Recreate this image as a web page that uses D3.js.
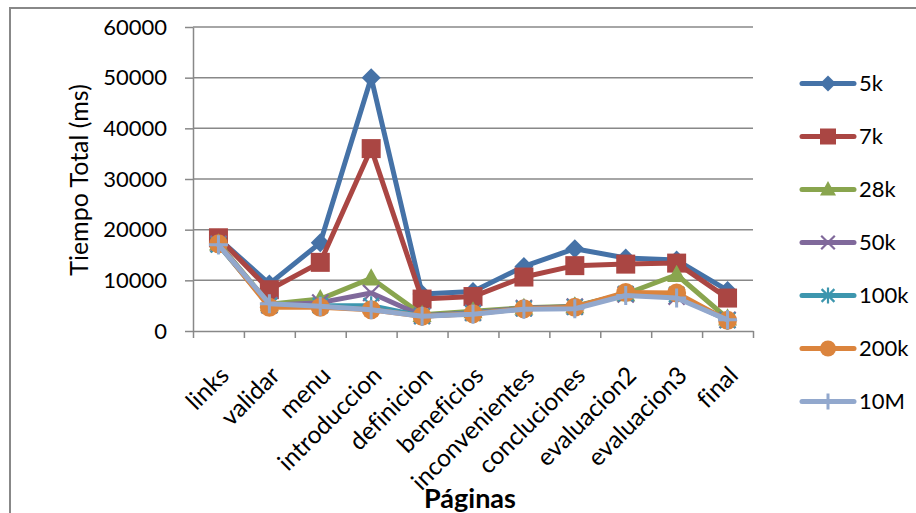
<!DOCTYPE html>
<html>
<head>
<meta charset="utf-8">
<script src="https://cdn.jsdelivr.net/npm/d3@7"></script>
<style>
  html, body { margin: 0; padding: 0; background: #fff; overflow: hidden; }
  text { font-family: Lato, "Open Sans", sans-serif; fill: #000; font-variant-ligatures: none; }
</style>
</head>
<body>
<svg id="chart" width="916" height="513"></svg>
<script>
// Page names along the horizontal axis
const categories = ["links", "validar", "menu", "introduccion", "definicion", "beneficios",
  "inconvenientes", "concluciones", "evaluacion2", "evaluacion3", "final"];

// Total time (ms) per page, one array per connection speed
const seriesNames = ["5k", "7k", "28k", "50k", "100k", "200k", "10M"];
const values5k   = [18300, 9300, 17400, 50000, 7300, 7800, 12750, 16250, 14400, 14000, 8000];
const values7k   = [18400, 8150, 13550, 36000, 6300, 6800, 10650, 12900, 13200, 13400, 6500];
const values28k  = [17300, 5300, 6300, 10400, 3200, 3900, 4600, 4900, 7300, 11100, 2500];
const values50k  = [17200, 5100, 5600, 7500, 3000, 3600, 4500, 4800, 7200, 6800, 2200];
const values100k = [17000, 5000, 5000, 5000, 2900, 3500, 4400, 4700, 7400, 7200, 2100];
const values200k = [17200, 4700, 4700, 4200, 2900, 3400, 4400, 4700, 7600, 7500, 2100];
const values10M  = [17000, 5400, 4900, 4200, 2900, 3300, 4300, 4400, 7000, 6500, 2200];

const yTicks = [0, 10000, 20000, 30000, 40000, 50000, 60000];

const seriesColors = ["#4572A7", "#AA4643", "#89A54E", "#80699B", "#3D96AE", "#DB843D", "#92A8CD"];
const markerKinds  = ["diamond", "square", "triangle", "cross", "star", "circle", "plus"];

const allValues = [values5k, values7k, values28k, values50k, values100k, values200k, values10M];
const series = seriesNames.map((name, i) => ({
  name, values: allValues[i], color: seriesColors[i], marker: markerKinds[i]
}));

const svg = d3.select("#chart");
const axisColor = "#888888";

// Outer chart frame
svg.append("rect")
  .attr("x", 10).attr("y", 8).attr("width", 920).attr("height", 520)
  .attr("fill", "none").attr("stroke", axisColor).attr("stroke-width", 2);

const plot = { left: 193, right: 753, top: 27, bottom: 331 };

const y = d3.scaleLinear().domain([0, 60000]).range([plot.bottom, plot.top]);
const x = d3.scaleBand().domain(categories).range([plot.left, plot.right]).padding(0);
const xEdge = d3.scaleLinear().domain([0, categories.length]).range([plot.left, plot.right]);
const cx = d => x(d) + x.bandwidth() / 2;

// Horizontal gridlines
svg.append("g")
  .selectAll("line")
  .data(yTicks.filter(t => t > 0))
  .join("line")
  .attr("x1", plot.left).attr("x2", plot.right)
  .attr("y1", d => y(d)).attr("y2", d => y(d))
  .attr("stroke", axisColor).attr("stroke-width", 1.5);

// Vertical axis
const yAxis = svg.append("g")
  .attr("transform", `translate(${plot.left},0)`)
  .call(d3.axisLeft(y).tickValues(yTicks).tickSize(8).tickSizeOuter(0).tickPadding(18)
    .tickFormat(d3.format("d")));
yAxis.select(".domain").attr("stroke", axisColor).attr("stroke-width", 1.5);
yAxis.selectAll(".tick line").attr("stroke", axisColor).attr("stroke-width", 1.5);
yAxis.selectAll(".tick text")
  .attr("font-size", 22).attr("font-family", "Lato, sans-serif").attr("fill", "#000");

// Horizontal axis with ticks between categories
const xAxis = svg.append("g")
  .attr("transform", `translate(0,${plot.bottom})`)
  .call(d3.axisBottom(xEdge).tickValues(d3.range(categories.length + 1)).tickSize(7)
    .tickSizeOuter(0).tickFormat(""));
xAxis.select(".domain").attr("stroke", axisColor).attr("stroke-width", 1.5);
xAxis.selectAll(".tick line").attr("stroke", axisColor).attr("stroke-width", 1.5);

// Rotated category labels
svg.append("g")
  .selectAll("text")
  .data(categories)
  .join("text")
  .attr("transform", d => `translate(${cx(d) + 12},${plot.bottom + 46}) rotate(-45)`)
  .attr("text-anchor", "end")
  .attr("font-size", 24.5)
  .text(d => d);

// Axis titles
svg.append("text")
  .attr("transform", `translate(88,${(plot.top + plot.bottom) / 2 + 1}) rotate(-90)`)
  .attr("text-anchor", "middle")
  .attr("font-size", 25)
  .text("Tiempo Total (ms)");

svg.append("text")
  .attr("x", 470).attr("y", 508)
  .attr("text-anchor", "middle")
  .attr("font-size", 27).attr("font-weight", "bold")
  .text("Páginas");

// Marker shapes
function drawMarker(g, kind, color, s) {
  switch (kind) {
    case "diamond":
      g.append("path").attr("d", `M0,${-s}L${s},0L0,${s}L${-s},0Z`).attr("fill", color);
      break;
    case "square":
      g.append("rect").attr("x", -s).attr("y", -s).attr("width", 2 * s).attr("height", 2 * s)
        .attr("fill", color);
      break;
    case "triangle":
      g.append("path").attr("d", `M0,${-s * 1.05}L${s},${s * 0.75}L${-s},${s * 0.75}Z`).attr("fill", color);
      break;
    case "cross":
      g.append("path").attr("d", `M${-s * 0.85},${-s * 0.85}L${s * 0.85},${s * 0.85}M${-s * 0.85},${s * 0.85}L${s * 0.85},${-s * 0.85}`)
        .attr("stroke", color).attr("stroke-width", 2.2).attr("fill", "none");
      break;
    case "star":
      g.append("path").attr("d", `M${-s * 0.8},${-s * 0.8}L${s * 0.8},${s * 0.8}M${-s * 0.8},${s * 0.8}L${s * 0.8},${-s * 0.8}M0,${-s}L0,${s}`)
        .attr("stroke", color).attr("stroke-width", 2.2).attr("fill", "none");
      break;
    case "circle":
      g.append("circle").attr("r", s).attr("fill", color);
      break;
    case "plus":
      g.append("path").attr("d", `M0,${-s}L0,${s}M${-s},0L${s},0`)
        .attr("stroke", color).attr("stroke-width", 3).attr("fill", "none");
      break;
  }
}

const line = d3.line().x((d, i) => cx(categories[i])).y(d => y(d));

// Series: line then markers, later series drawn on top
series.forEach(s => {
  const g = svg.append("g");
  g.append("path")
    .attr("d", line(s.values))
    .attr("fill", "none").attr("stroke", s.color).attr("stroke-width", 5)
    .attr("stroke-linejoin", "round").attr("stroke-linecap", "round");
  s.values.forEach((v, i) => {
    const m = g.append("g").attr("transform", `translate(${cx(categories[i])},${y(v)})`);
    drawMarker(m, s.marker, s.color, 9.5);
  });
});

// Legend
const legend = svg.append("g");
series.forEach((s, i) => {
  const ly = 83.5 + i * 53;
  const item = legend.append("g").attr("transform", `translate(0,${ly})`);
  item.append("line").attr("x1", 802).attr("x2", 854).attr("y1", 0).attr("y2", 0)
    .attr("stroke", s.color).attr("stroke-width", 5).attr("stroke-linecap", "round");
  drawMarker(item.append("g").attr("transform", "translate(828,0)"), s.marker, s.color, 8);
  item.append("text").attr("x", 859).attr("y", 0).attr("dy", "0.36em")
    .attr("font-size", 22).text(s.name);
});
</script>
</body>
</html>
